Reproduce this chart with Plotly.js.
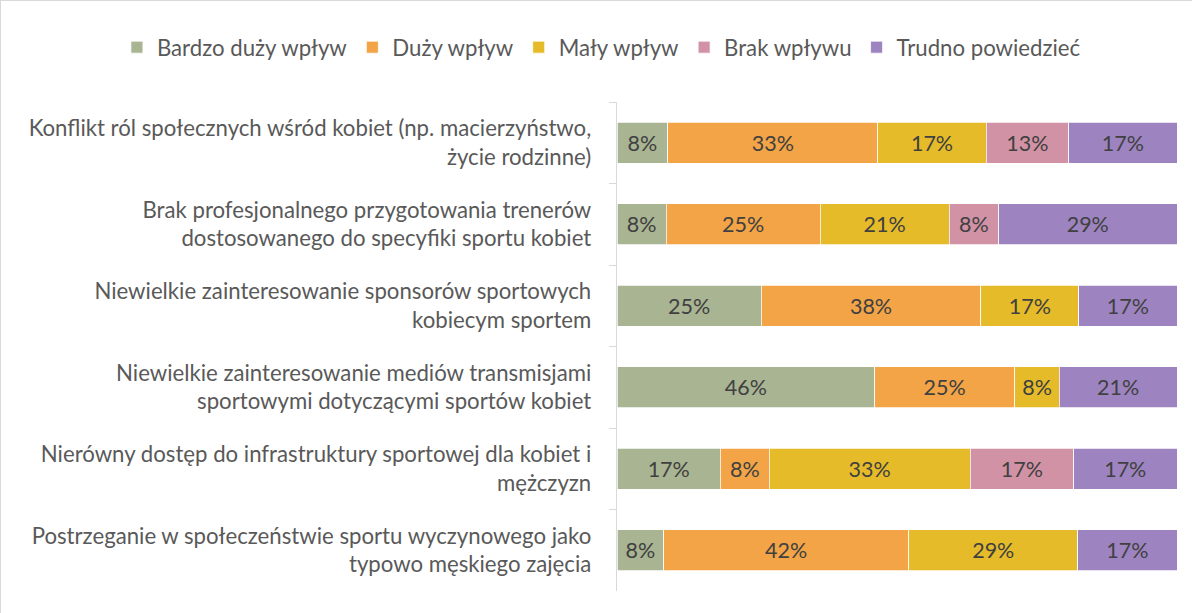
<!DOCTYPE html>
<html><head><meta charset="utf-8">
<script src="https://cdn.plot.ly/plotly-3.0.1.min.js"></script>
<style>html,body{margin:0;padding:0;background:#fff}#chart{width:1192px;height:613px;box-sizing:border-box;border:1px solid #d9d9d9}</style>
</head><body><div id="chart"></div>
<script>
const categories = [
  'Konflikt ról społecznych wśród kobiet (np. macierzyństwo,<br>życie rodzinne)',
  'Brak profesjonalnego przygotowania trenerów<br>dostosowanego do specyfiki sportu kobiet',
  'Niewielkie zainteresowanie sponsorów sportowych<br>kobiecym sportem',
  'Niewielkie zainteresowanie mediów transmisjami<br>sportowymi dotyczącymi sportów kobiet',
  'Nierówny dostęp do infrastruktury sportowej dla kobiet i<br>mężczyzn',
  'Postrzeganie w społeczeństwie sportu wyczynowego jako<br>typowo męskiego zajęcia'
];
const seriesNames = ['Bardzo duży wpływ','Duży wpływ','Mały wpływ','Brak wpływu','Trudno powiedzieć'];
const bardzoDuzy = [8, 8, 25, 46, 17, 8];
const duzy       = [33, 25, 38, 25, 8, 42];
const maly       = [17, 21, 17, 8, 33, 29];
const brak       = [13, 8, 0, 0, 17, 0];
const trudno     = [17, 29, 17, 21, 17, 17];
const colors = ['#A9B493','#F2A447','#E6BB29','#D292A6','#9D84C0'];

const FS = 22.2;
const FONT = 'Lato, "Open Sans", sans-serif';
const allSeries = [bardzoDuzy, duzy, maly, brak, trudno];
const traces = allSeries.map((vals, i) => ({
  type: 'bar', orientation: 'h', name: seriesNames[i],
  y: categories, x: vals,
  text: vals.map(v => v > 0 ? v + '%' : ''),
  textposition: 'inside', insidetextanchor: 'middle', textangle: 0,
  constraintext: 'none',
  textfont: {family: FONT, size: 21.5, color: '#404040'},
  marker: {color: colors[i], line: {color: '#ffffff', width: 0.75}},
  hoverinfo: 'name+x'
}));

const layout = {
  width: 1192, height: 613,
  barmode: 'stack', barnorm: 'percent', bargap: 0.5,
  margin: {l: 616, r: 16, t: 101, b: 23},
  paper_bgcolor: '#fff', plot_bgcolor: '#fff',
  font: {family: FONT, size: FS, color: '#595959'},
  showlegend: true,
  legend: {orientation: 'h', x: -0.893, xanchor: 'left', y: 1.112, yanchor: 'middle',
           font: {family: FONT, size: FS, color: '#595959'}, traceorder: 'normal'},
  xaxis: {range: [0, 100], showticklabels: false, showgrid: false, zeroline: false, fixedrange: true},
  yaxis: {autorange: 'reversed', showline: true, linecolor: '#d9d9d9', linewidth: 1.3,
          ticks: 'outside', tickson: 'boundaries', ticklen: 7, tickcolor: '#d9d9d9',
          ticklabelstandoff: 20, tickfont: {family: FONT, size: FS, color: '#595959'}, showgrid: false}
};
Plotly.newPlot('chart', traces, layout, {displayModeBar: false, staticPlot: true});
</script></body></html>
